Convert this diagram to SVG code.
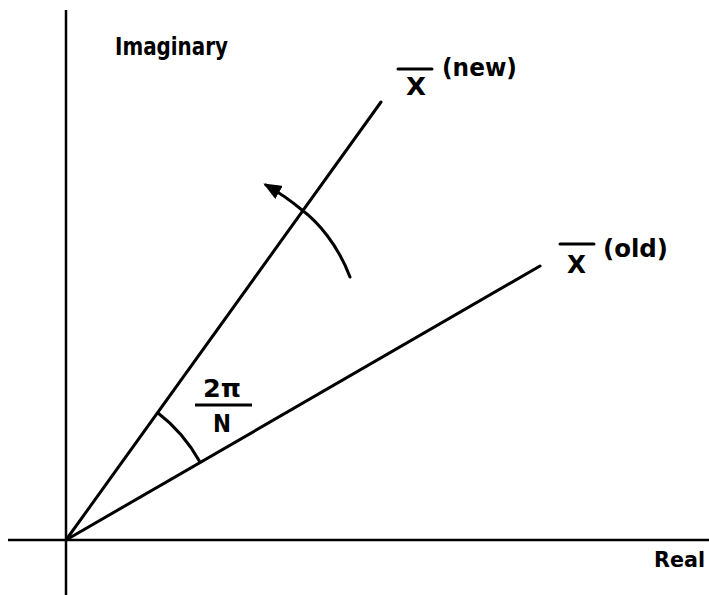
<svg xmlns="http://www.w3.org/2000/svg" width="709" height="595" viewBox="0 0 709 595">
<defs>
<style>
.ln{stroke:#000;stroke-width:3;fill:none;stroke-linecap:round}
.ax{stroke:#000;stroke-width:2.5;fill:none}
.t{font-family:"DejaVu Sans","Liberation Sans",sans-serif;font-weight:bold;fill:#000}
</style>
<marker id="ah" viewBox="0 0 12 10" refX="10" refY="5" markerWidth="6" markerHeight="5" orient="auto" markerUnits="strokeWidth">
<path d="M0,0 L12,5 L0,10 Z" fill="#000"/>
</marker>
</defs>
<rect width="709" height="595" fill="#fff"/>
<g id="connectors">
<line id="axis-imag" class="ax" x1="66" y1="10" x2="66" y2="595"/>
<line id="axis-real" class="ax" x1="8" y1="540" x2="709" y2="540"/>
<line id="vec-new" class="ln" x1="66" y1="540" x2="381" y2="102"/>
<line id="vec-old" class="ln" x1="66" y1="540" x2="540" y2="266"/>
<path id="angle-arc" class="ln" stroke-width="2.5" d="M158,413 Q183,432 200,462"/>
<path id="rot-arc" class="ln" stroke-width="2.5" d="M350,277 C338,245 318,222 302,210 C290,200 280,193 266,185" marker-end="url(#ah)"/>
</g>
<g id="label-imaginary"><text class="t" x="115" y="55" font-size="25" textLength="113" lengthAdjust="spacingAndGlyphs">Imaginary</text></g>
<g id="label-xnew">
<line class="ln" x1="398" y1="69" x2="432" y2="69" stroke-width="2.5"/>
<text class="t" x="406" y="95" font-size="24" textLength="20" lengthAdjust="spacingAndGlyphs">X</text>
<text class="t" x="442" y="76" font-size="24" textLength="75" lengthAdjust="spacingAndGlyphs">(new)</text>
</g>
<g id="label-xold">
<line class="ln" x1="560" y1="244" x2="594" y2="244" stroke-width="2.5"/>
<text class="t" x="567" y="273" font-size="24" textLength="19" lengthAdjust="spacingAndGlyphs">X</text>
<text class="t" x="603" y="257" font-size="24" textLength="65" lengthAdjust="spacingAndGlyphs">(old)</text>
</g>
<g id="label-angle">
<text class="t" x="203" y="397" font-size="24" textLength="38" lengthAdjust="spacingAndGlyphs">2π</text>
<line x1="195" y1="405" x2="252" y2="405" stroke="#000" stroke-width="3"/>
<text class="t" x="213" y="432" font-size="25" textLength="18" lengthAdjust="spacingAndGlyphs">N</text>
</g>
<g id="label-real"><text class="t" x="654" y="567" font-size="22" textLength="51" lengthAdjust="spacingAndGlyphs">Real</text></g>
</svg>
